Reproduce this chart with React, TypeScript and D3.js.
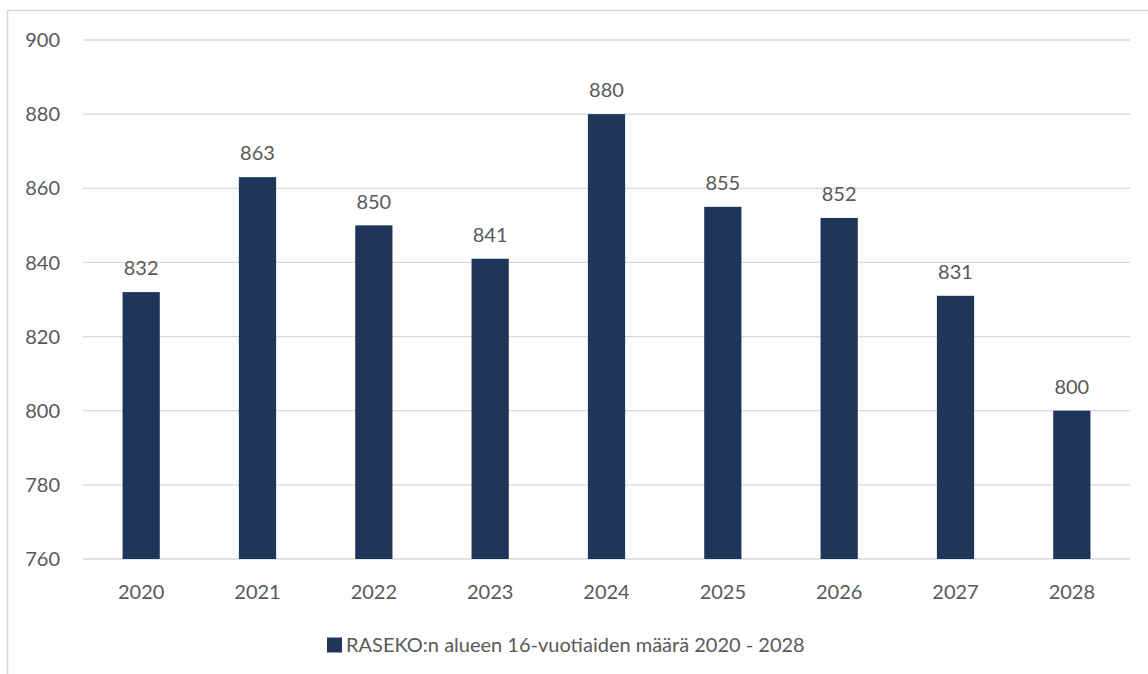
import { useEffect, useRef } from "react";
import * as d3 from "d3";

const years = ["2020", "2021", "2022", "2023", "2024", "2025", "2026", "2027", "2028"];
const counts = [832, 863, 850, 841, 880, 855, 852, 831, 800];
const yTicks = [760, 780, 800, 820, 840, 860, 880, 900];
const legendLabel = "RASEKO:n alueen 16-vuotiaiden määrä 2020 - 2028";

const BAR = "#1f3559";
const TEXT = "#595959";
const FONT = "Lato, 'Open Sans', sans-serif";

const App = () => {
  const svgRef = useRef<SVGSVGElement>(null);

  useEffect(() => {
    if (!svgRef.current) return;
    const svg = d3.select(svgRef.current);
    svg.selectAll("*").remove();

    const left = 83;
    const right = 1130;
    const top = 40;
    const bottom = 559;

    // chart frame (cropped on the right and bottom)
    svg
      .append("rect")
      .attr("x", 7.5)
      .attr("y", 10.5)
      .attr("width", 1200)
      .attr("height", 700)
      .attr("fill", "#fff")
      .attr("stroke", "#d9d9d9")
      .attr("stroke-width", 1.5);

    const x = d3.scaleBand<string>().domain(years).range([left, right]).paddingInner(0.68).paddingOuter(0.34);
    const y = d3.scaleLinear().domain([760, 900]).range([bottom, top]);

    const grid = svg.append("g");
    grid
      .selectAll("line")
      .data(yTicks)
      .join("line")
      .attr("x1", left)
      .attr("x2", right)
      .attr("y1", (d) => y(d))
      .attr("y2", (d) => y(d))
      .attr("stroke", "#d9d9d9")
      .attr("stroke-width", 1.3);

    svg
      .append("g")
      .selectAll("text")
      .data(yTicks)
      .join("text")
      .attr("x", 60)
      .attr("y", (d) => y(d))
      .attr("dy", "0.36em")
      .attr("text-anchor", "end")
      .attr("fill", TEXT)
      .style("font-family", FONT)
      .style("font-size", "20px")
      .text((d) => d);

    svg
      .append("g")
      .selectAll("rect")
      .data(counts)
      .join("rect")
      .attr("x", (_, i) => x(years[i])!)
      .attr("y", (d) => y(d))
      .attr("width", x.bandwidth())
      .attr("height", (d) => bottom - y(d))
      .attr("fill", BAR);

    svg
      .append("g")
      .selectAll("text")
      .data(counts)
      .join("text")
      .attr("x", (_, i) => x(years[i])! + x.bandwidth() / 2)
      .attr("y", (d) => y(d) - 24)
      .attr("dy", "0.36em")
      .attr("text-anchor", "middle")
      .attr("fill", TEXT)
      .style("font-family", FONT)
      .style("font-size", "20px")
      .text((d) => d);

    svg
      .append("g")
      .selectAll("text")
      .data(years)
      .join("text")
      .attr("x", (d) => x(d)! + x.bandwidth() / 2)
      .attr("y", 592)
      .attr("dy", "0.36em")
      .attr("text-anchor", "middle")
      .attr("fill", TEXT)
      .style("font-family", FONT)
      .style("font-size", "20px")
      .text((d) => d);

    const legend = svg.append("g").attr("transform", "translate(327,645)");
    legend.append("rect").attr("x", 0).attr("y", -7.5).attr("width", 15).attr("height", 15).attr("fill", BAR);
    legend
      .append("text")
      .attr("x", 19)
      .attr("y", 0)
      .attr("dy", "0.36em")
      .attr("fill", TEXT)
      .style("font-family", FONT)
      .style("font-size", "20px")
      .text(legendLabel);
  }, []);

  return (
    <svg
      ref={svgRef}
      width={1148}
      height={674}
      style={{ position: "absolute", left: 0, top: 0, background: "#fff" }}
    />
  );
};

export default App;
